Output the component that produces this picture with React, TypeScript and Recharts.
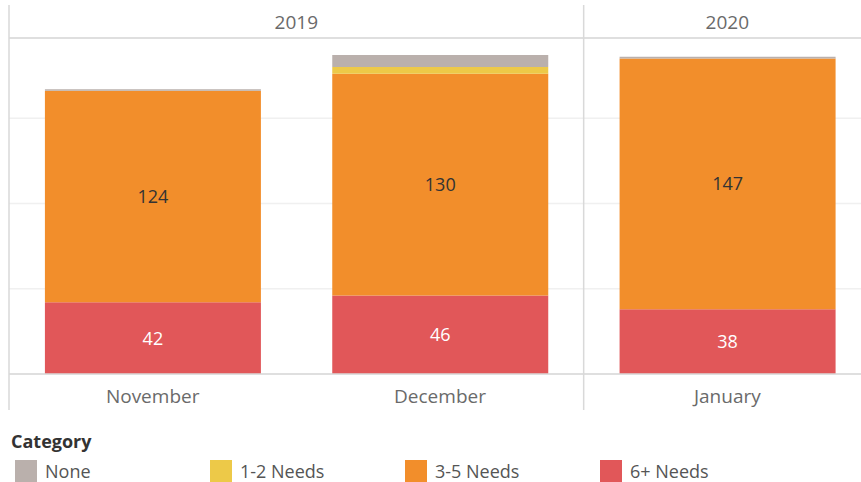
import React from "react";
import {
  BarChart,
  Bar,
  XAxis,
  YAxis,
  CartesianGrid,
  LabelList,
} from "recharts";

const months = ["November", "December", "January"];
const years = ["2019", "2019", "2020"];
const noneValues = [1, 7, 1];
const needs12Values = [0, 4, 0];
const needs35Values = [124, 130, 147];
const needs6Values = [42, 46, 38];
const yTicks = [0, 50, 100, 150];

const data = months.map((month, i) => ({
  month,
  year: years[i],
  none: noneValues[i],
  needs12: needs12Values[i],
  needs35: needs35Values[i],
  needs6: needs6Values[i],
}));

const FONT = "'Open Sans', sans-serif";
const LINE = "#d9d9d9";
const WIDTH = 861;
const HEIGHT = 482;
const MARGIN = { top: 5, right: -10, bottom: 78, left: 9 };
const BAND = (WIDTH - MARGIN.left - MARGIN.right) / months.length;
const HEADER_TOP = 5;
const LABEL_BOTTOM = 410;

const legendItems = [
  { key: "none", name: "None", color: "#bab0ac" },
  { key: "needs12", name: "1-2 Needs", color: "#edc948" },
  { key: "needs35", name: "3-5 Needs", color: "#f28e2b" },
  { key: "needs6", name: "6+ Needs", color: "#e15759" },
];

// year header: label centred over each group, divider at group start
const YearTick = (props: any) => {
  const { x, index } = props;
  const year = years[index];
  if (index > 0 && years[index - 1] === year) return null;
  const count = years.filter((y) => y === year).length;
  const left = x - BAND / 2;
  return (
    <g>
      <line x1={left} x2={left} y1={HEADER_TOP} y2={LABEL_BOTTOM} stroke={LINE} strokeWidth={1.5} />
      <text
        x={left + (count * BAND) / 2}
        y={22}
        textAnchor="middle"
        dominantBaseline="central"
        fill="#6a6a6a"
        fontSize={19}
        fontFamily={FONT}
      >
        {year}
      </text>
    </g>
  );
};

const MonthTick = (props: any) => {
  const { x, payload } = props;
  return (
    <text
      x={x}
      y={396}
      textAnchor="middle"
      dominantBaseline="central"
      fill="#6a6a6a"
      fontSize={19}
      fontFamily={FONT}
    >
      {payload.value}
    </text>
  );
};

const CategoryLegend = () => (
  <div style={{ fontFamily: FONT, position: "absolute", left: 0, top: 428, width: WIDTH, height: 54 }}>
    <div style={{ position: "absolute", left: 11, top: 1, fontSize: 18, fontWeight: 700, color: "#333" }}>
      Category
    </div>
    {legendItems.map((item, i) => (
      <div
        key={item.key}
        style={{ position: "absolute", left: 15 + i * 195, top: 31, display: "flex", alignItems: "center" }}
      >
        <span style={{ width: 22, height: 22, background: item.color, display: "inline-block" }} />
        <span style={{ marginLeft: 8, fontSize: 18, color: "#555" }}>{item.name}</span>
      </div>
    ))}
  </div>
);

export default function App() {
  return (
    <div style={{ position: "absolute", left: 0, top: 0, width: WIDTH, height: HEIGHT, background: "#fff" }}>
      <BarChart width={WIDTH} height={HEIGHT} data={data} margin={MARGIN} barCategoryGap="12.5%">
        <CartesianGrid vertical={false} stroke="#f0f0f0" strokeWidth={1.5} />
        <XAxis
          dataKey="month"
          axisLine={{ stroke: LINE, strokeWidth: 1.5 }}
          tickLine={false}
          tick={<MonthTick />}
          interval={0}
          height={30}
        />
        <XAxis
          xAxisId="year"
          dataKey="month"
          orientation="top"
          axisLine={{ stroke: LINE, strokeWidth: 1.5 }}
          tickLine={false}
          tick={<YearTick />}
          interval={0}
          height={33}
        />
        <YAxis hide domain={[0, 197]} ticks={yTicks} />
        <Bar dataKey="needs6" name="6+ Needs" stackId="a" fill="#e15759" isAnimationActive={false}>
          <LabelList dataKey="needs6" position="center" fill="#fff" fontSize={18} fontFamily={FONT} />
        </Bar>
        <Bar dataKey="needs35" name="3-5 Needs" stackId="a" fill="#f28e2b" isAnimationActive={false}>
          <LabelList dataKey="needs35" position="center" fill="#333" fontSize={18} fontFamily={FONT} />
        </Bar>
        <Bar dataKey="needs12" name="1-2 Needs" stackId="a" fill="#edc948" isAnimationActive={false} />
        <Bar dataKey="none" name="None" stackId="a" fill="#bab0ac" isAnimationActive={false} />
      </BarChart>
      <CategoryLegend />
    </div>
  );
}
